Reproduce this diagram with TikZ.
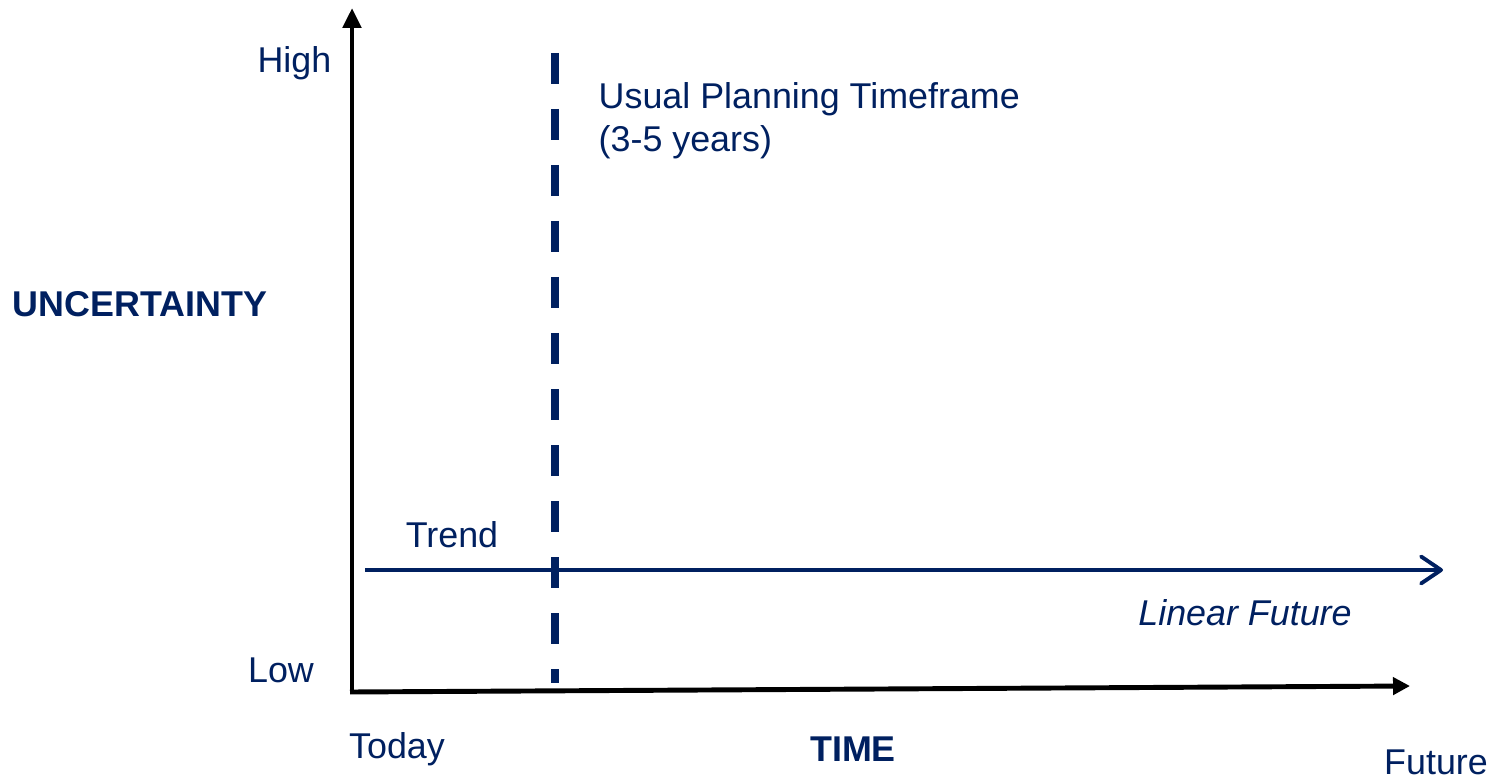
\documentclass[tikz,border=0pt]{standalone}
\usepackage{fontspec}
\setmainfont{Liberation Sans}
\usetikzlibrary{arrows.meta}
\definecolor{navy}{HTML}{002060}

\begin{document}
\begin{tikzpicture}[>=Latex, lbl/.style={text=navy, font=\fontsize{10.2}{12.2}\selectfont, inner sep=0pt}]
\useasboundingbox (0,0) rectangle (14.93,7.79);
\coordinate (O) at (3.52,0.87);\coordinate (ytop) at (3.52,7.71);\coordinate (xend) at (14.10,0.93);
\coordinate (trendL) at (3.65,2.09);\coordinate (trendR) at (14.43,2.09);
\coordinate (planT) at (5.55,7.26);\coordinate (planB) at (5.55,0.96);
\draw[line width=1.4pt, -{Triangle[length=0.2cm,width=0.18cm]}] ([yshift=-0.02cm]O) -- (ytop);
\draw[line width=1.4pt, -{Triangle[length=0.17cm,width=0.17cm]}] ([xshift=-0.02cm]O) -- (xend);
\draw[navy, line width=1.1pt, -{Straight Barb[length=0.2cm,width=0.27cm,round]}] (trendL) -- (trendR);
\draw[navy, line width=2.3pt, dash pattern=on 0.31cm off 0.25cm] (planT) -- (planB);
\node[lbl, anchor=east] (high) at (3.32,7.16) {High};
\node[lbl] (low) at (2.81,1.09) {Low};
\node[lbl, anchor=west, font=\fontsize{10.2}{12.2}\selectfont\bfseries] (unc) at (0.12,4.75) {UNCERTAINTY};
\node[lbl] (trend) at (4.52,2.44) {Trend};
\node[lbl, font=\fontsize{10.2}{12.2}\selectfont\itshape] (linear) at (12.45,1.66) {Linear Future};
\node[lbl] (today) at (3.97,0.30) {Today};
\node[lbl, font=\fontsize{10.2}{12.2}\selectfont\bfseries] (time) at (8.53,0.30) {TIME};
\node[lbl] (future) at (14.36,0.17) {Future};
\node[lbl, anchor=west, align=left] (plan) at (5.98,6.58) {Usual Planning Timeframe\\(3-5 years)};
\end{tikzpicture}
\end{document}
